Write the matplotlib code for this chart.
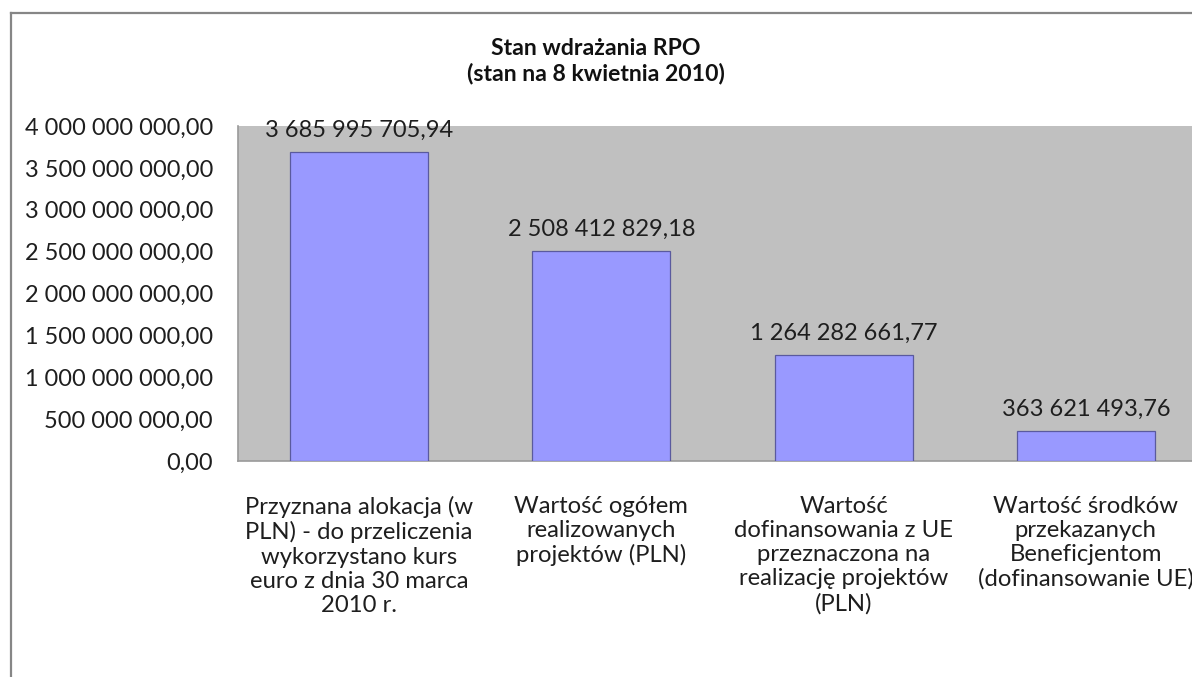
import matplotlib
matplotlib.use("Agg")
import matplotlib.pyplot as plt
from matplotlib.lines import Line2D
from matplotlib.ticker import FuncFormatter

categories = [
    "Przyznana alokacja (w\nPLN) - do przeliczenia\nwykorzystano kurs\neuro z dnia 30 marca\n2010 r.",
    "Wartość ogółem\nrealizowanych\nprojektów (PLN)",
    "Wartość\ndofinansowania z UE\nprzeznaczona na\nrealizację projektów\n(PLN)",
    "Wartość środków\nprzekazanych\nBeneficjentom\n(dofinansowanie UE)",
]
values = [3685995705.94, 2508412829.18, 1264282661.77, 363621493.76]
yticks = [0, 500e6, 1000e6, 1500e6, 2000e6, 2500e6, 3000e6, 3500e6, 4000e6]
title = "Stan wdrażania RPO\n(stan na 8 kwietnia 2010)"

FONT = ["Lato", "DejaVu Sans"]
plt.rcParams["font.family"] = FONT

W, H = 1192, 677
fig = plt.figure(figsize=(W / 100, H / 100), dpi=100)
fig.patch.set_facecolor("white")

def fmt(v, pos=None):
    s = f"{v:,.2f}"
    s = s.replace(",", " ").replace(".", ",")
    return s

TXT = "#1e1e1e"
left, right, top, bottom = 238, 1207, 126, 461
ax = fig.add_axes([left / W, 1 - bottom / H, (right - left) / W, (bottom - top) / H])
ax.set_facecolor("#C0C0C0")
x = list(range(len(values)))
ax.bar(x, values, width=0.57, color="#9999FF", edgecolor="#5A5A9E", linewidth=0.9, zorder=3)
ax.set_xlim(-0.5, len(values) - 0.5)
ax.set_ylim(0, 4000e6)
ax.set_yticks(yticks)
ax.yaxis.set_major_formatter(FuncFormatter(fmt))
ax.tick_params(axis="y", length=0, pad=18, labelsize=16.9, colors=TXT)
ax.tick_params(axis="x", length=0, pad=25)
ax.set_xticks(x)
ax.set_xticklabels(categories, fontsize=17.2, color=TXT, linespacing=1.19, va="top")
for s in ["top", "right"]:
    ax.spines[s].set_visible(False)
for s in ["left", "bottom"]:
    ax.spines[s].set_color("#9A9A9A")
    ax.spines[s].set_linewidth(1.2)

for xi, v in zip(x, values):
    ax.annotate(fmt(v), (xi, v), xytext=(0, 8), textcoords="offset points",
                ha="center", va="bottom", fontsize=17, color=TXT, annotation_clip=False)

fig.text(0.5, 1 - 61 / H, title, ha="center", va="center", fontsize=16.6, fontweight="bold",
         linespacing=1.2, color="#111111")

# chart frame (left and top edges visible)
fig.add_artist(Line2D([11 / W, 11 / W], [0, 1 - 13 / H], transform=fig.transFigure, color="#868686", linewidth=1.6))
fig.add_artist(Line2D([10.5 / W, 1], [1 - 13 / H, 1 - 13 / H], transform=fig.transFigure, color="#868686", linewidth=1.6))

fig.savefig("out.png", dpi=100, facecolor="white")
